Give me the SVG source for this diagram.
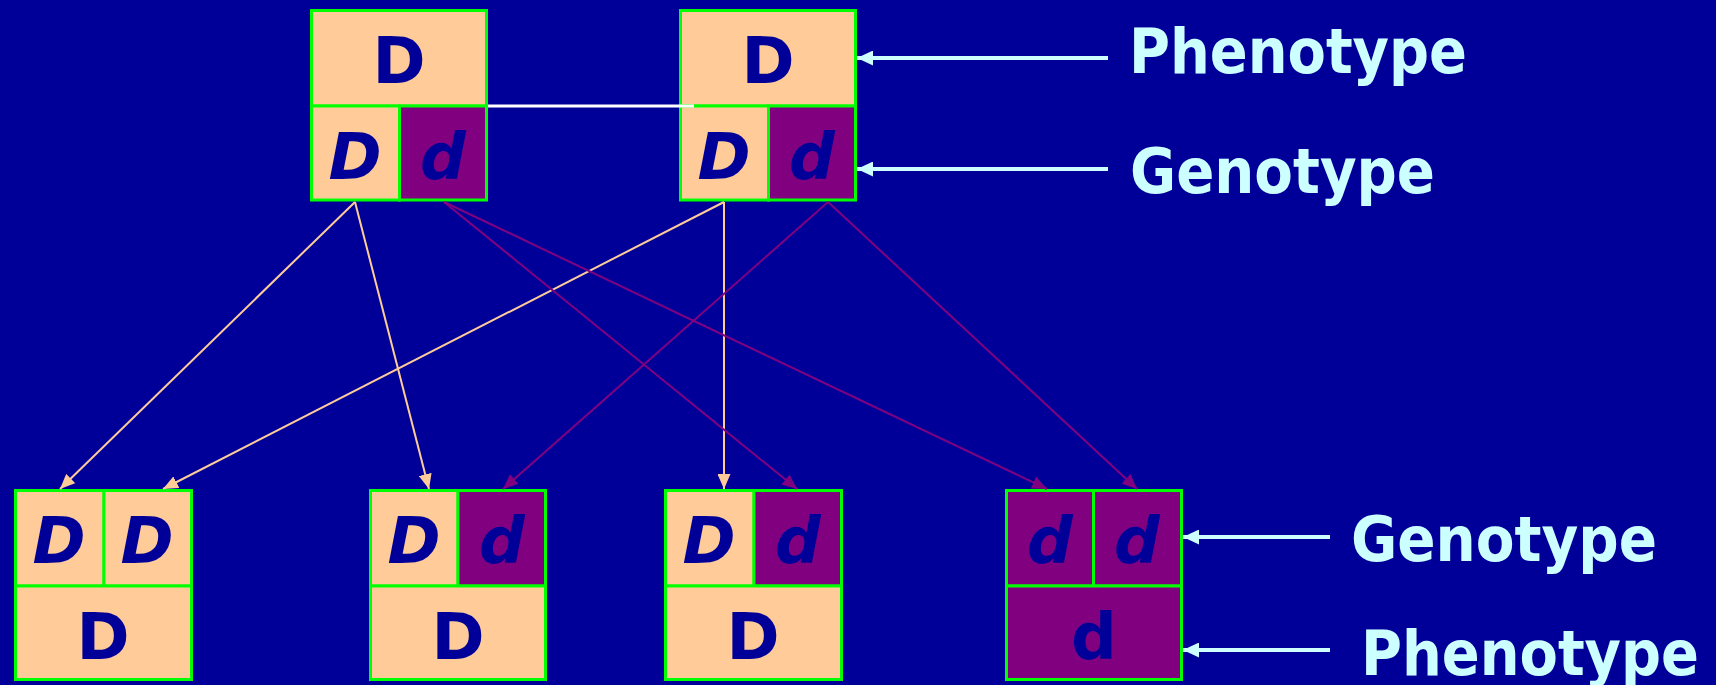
<svg xmlns="http://www.w3.org/2000/svg" width="1716" height="685" viewBox="0 0 1716 685">
<defs>
<style>
.bg{fill:#000099}
.pe{fill:#FFCC99;stroke:#00FF00;stroke-width:3}
.pu{fill:#800080;stroke:#00FF00;stroke-width:3}
.ph{font-family:"DejaVu Sans","Verdana",sans-serif;font-weight:bold;font-size:64px;fill:#000099;text-anchor:middle}
.gt{font-family:"DejaVu Sans","Verdana",sans-serif;font-weight:bold;font-style:italic;font-size:64px;fill:#000099;text-anchor:middle}
.lab{font-family:"DejaVu Sans Condensed","DejaVu Sans",sans-serif;font-weight:bold;font-size:63px;fill:#CCFFFF}
.cp{stroke:#FFCC99;stroke-width:2;fill:none;marker-end:url(#ap)}
.cv{stroke:#800080;stroke-width:2;fill:none;marker-end:url(#av)}
.la{stroke:#CCFFFF;stroke-width:4;fill:none;marker-end:url(#al)}
</style>
<marker id="ap" viewBox="0 0 15 13" refX="15" refY="6.5" markerWidth="15" markerHeight="13" markerUnits="userSpaceOnUse" orient="auto"><path d="M0,0 L15,6.5 L0,13 z" fill="#FFCC99"/></marker>
<marker id="av" viewBox="0 0 15 13" refX="15" refY="6.5" markerWidth="15" markerHeight="13" markerUnits="userSpaceOnUse" orient="auto"><path d="M0,0 L15,6.5 L0,13 z" fill="#800080"/></marker>
<marker id="al" viewBox="0 0 16 15" refX="16" refY="7.5" markerWidth="16" markerHeight="15" markerUnits="userSpaceOnUse" orient="auto"><path d="M0,0 L16,7.5 L0,15 z" fill="#CCFFFF"/></marker>
</defs>
<rect class="bg" x="0" y="0" width="1716" height="685"/>

<g id="parent1">
<rect class="pe" x="311.5" y="10.5" width="175" height="95.5"/>
<rect class="pe" x="311.5" y="106" width="88" height="94"/>
<rect class="pu" x="399.5" y="106" width="87" height="94"/>
<text class="ph" x="399" y="83">D</text>
<text class="gt" x="355" y="179">D</text>
<text class="gt" x="443" y="179">d</text>
</g>

<g id="parent2">
<rect class="pe" x="680.5" y="10.5" width="175" height="95.5"/>
<rect class="pe" x="680.5" y="106" width="88" height="94"/>
<rect class="pu" x="768.5" y="106" width="87" height="94"/>
<text class="ph" x="768" y="83">D</text>
<text class="gt" x="724" y="179">D</text>
<text class="gt" x="812" y="179">d</text>
</g>

<g id="child1">
<rect class="pe" x="15.5" y="490.5" width="88.5" height="95.5"/>
<rect class="pe" x="104" y="490.5" width="87.5" height="95.5"/>
<rect class="pe" x="15.5" y="586" width="176" height="93.5"/>
<text class="gt" x="59" y="563">D</text>
<text class="gt" x="147" y="563">D</text>
<text class="ph" x="103" y="659">D</text>
</g>

<g id="child2">
<rect class="pe" x="370.5" y="490.5" width="87.5" height="95.5"/>
<rect class="pu" x="458" y="490.5" width="87.5" height="95.5"/>
<rect class="pe" x="370.5" y="586" width="175" height="93.5"/>
<text class="gt" x="414" y="563">D</text>
<text class="gt" x="502" y="563">d</text>
<text class="ph" x="458" y="659">D</text>
</g>

<g id="child3">
<rect class="pe" x="665.5" y="490.5" width="88.5" height="95.5"/>
<rect class="pu" x="754" y="490.5" width="87.5" height="95.5"/>
<rect class="pe" x="665.5" y="586" width="176" height="93.5"/>
<text class="gt" x="709" y="563">D</text>
<text class="gt" x="798" y="563">d</text>
<text class="ph" x="753" y="659">D</text>
</g>

<g id="child4">
<rect class="pu" x="1006.5" y="490.5" width="87" height="95.5"/>
<rect class="pu" x="1093.5" y="490.5" width="88" height="95.5"/>
<rect class="pu" x="1006.5" y="586" width="175" height="93.5"/>
<text class="gt" x="1050" y="563">d</text>
<text class="gt" x="1137" y="563">d</text>
<text class="ph" x="1094" y="659">d</text>
</g>

<g id="connectors">
<line x1="488" y1="106" x2="694" y2="106" stroke="#FFFFFF" stroke-width="3"/>
<line class="cp" x1="355" y1="202" x2="60" y2="489"/>
<line class="cp" x1="355" y1="202" x2="429" y2="489"/>
<line class="cp" x1="724" y1="202" x2="163" y2="489"/>
<line class="cp" x1="724" y1="202" x2="724" y2="489"/>
<line class="cv" x1="444" y1="202" x2="797" y2="489"/>
<line class="cv" x1="444" y1="202" x2="1047" y2="489"/>
<line class="cv" x1="828" y1="202" x2="503" y2="489"/>
<line class="cv" x1="828" y1="202" x2="1137" y2="489"/>
<line class="la" x1="1108" y1="58" x2="857" y2="58"/>
<line class="la" x1="1108" y1="169" x2="857" y2="169"/>
<line class="la" x1="1330" y1="537" x2="1183" y2="537"/>
<line class="la" x1="1330" y1="650" x2="1183" y2="650"/>
</g>

<g id="labels">
<text class="lab" x="1129" y="73" textLength="338" lengthAdjust="spacingAndGlyphs">Phenotype</text>
<text class="lab" x="1130" y="193" textLength="305" lengthAdjust="spacingAndGlyphs">Genotype</text>
<text class="lab" x="1351" y="561" textLength="306" lengthAdjust="spacingAndGlyphs">Genotype</text>
<text class="lab" x="1361" y="675" textLength="338" lengthAdjust="spacingAndGlyphs">Phenotype</text>
</g>
</svg>
